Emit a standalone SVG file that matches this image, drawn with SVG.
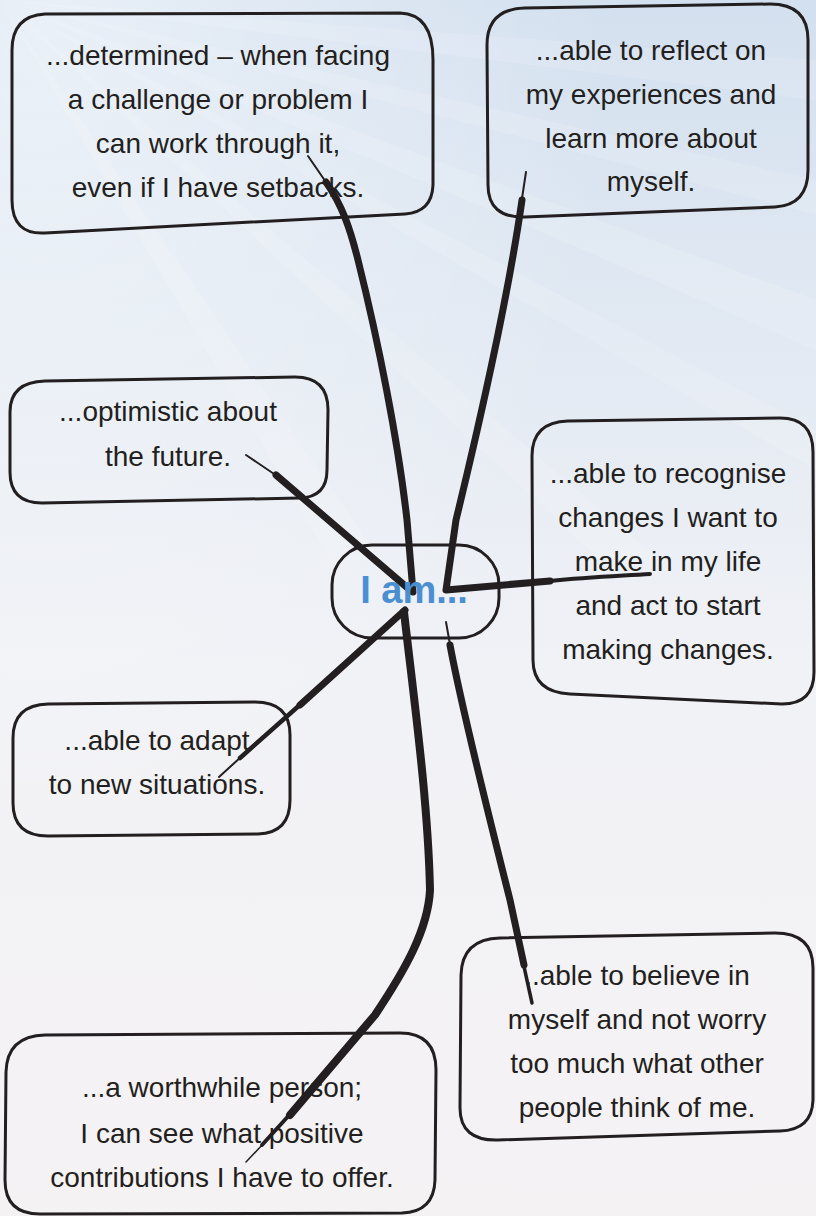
<svg xmlns="http://www.w3.org/2000/svg" width="816" height="1216" viewBox="0 0 816 1216">
  <defs>
    <linearGradient id="bg" x1="0" y1="0" x2="0" y2="1">
      <stop offset="0" stop-color="#d3e0ef"/>
      <stop offset="0.3" stop-color="#e3eaf3"/>
      <stop offset="0.55" stop-color="#f1f2f6"/>
      <stop offset="1" stop-color="#f5f2f4"/>
    </linearGradient>
    <radialGradient id="glow" cx="0.05" cy="0.02" r="0.7">
      <stop offset="0" stop-color="#ffffff" stop-opacity="0.5"/>
      <stop offset="1" stop-color="#ffffff" stop-opacity="0"/>
    </radialGradient>
    <style>
      .box { fill: none; stroke: #231f20; stroke-width: 3; stroke-linejoin: round; }
      .t { font-family: "Liberation Sans", Arial, sans-serif; font-size: 28px; fill: #231f20; text-anchor: middle; }
      .c { font-family: "Liberation Sans", Arial, sans-serif; font-size: 38px; font-weight: bold; fill: #4a8fd2; text-anchor: middle; }
      .ln { fill: none; stroke: #231f20; stroke-linecap: round; stroke-linejoin: round; }
      .ray { fill: #ffffff; opacity: 0.13; }
    </style>
  </defs>

  <rect x="0" y="0" width="816" height="1216" fill="url(#bg)"/>
  <g id="rays">
    <polygon class="ray" points="0,0 816,180 816,215"/>
    <polygon class="ray" points="0,0 816,300 816,350"/>
    <polygon class="ray" points="0,0 816,430 816,470"/>
    <polygon class="ray" points="0,0 600,560 660,560"/>
    <polygon class="ray" points="0,0 330,560 380,560"/>
    <polygon class="ray" points="0,0 816,60 816,100"/>
  </g>
  <rect x="0" y="0" width="816" height="1216" fill="url(#glow)"/>

  <g id="connectors">
    <!-- determined -->
    <path class="ln" stroke-width="2" d="M 308,156 L 330,188"/>
    <path class="ln" stroke-width="7" d="M 326,182 C 342,205 350,228 358,260 C 378,340 398,440 407,520 L 413,592"/>
    <!-- reflect -->
    <path class="ln" stroke-width="2" d="M 526,172 L 521,205"/>
    <path class="ln" stroke-width="7" d="M 522,200 C 512,270 490,380 456,520 L 446,590 L 550,581"/>
    <path class="ln" stroke-width="4" d="M 550,581 C 590,577 620,576 650,574"/>
    <!-- optimistic -->
    <path class="ln" stroke-width="2" d="M 246,455 L 280,478"/>
    <path class="ln" stroke-width="7" d="M 276,475 L 410,590"/>
    <!-- adapt -->
    <path class="ln" stroke-width="7" d="M 405,610 L 300,705"/>
    <path class="ln" stroke-width="4.5" d="M 302,703 L 240,758"/>
    <path class="ln" stroke-width="2" d="M 242,756 L 219,777"/>
    <!-- worthwhile -->
    <path class="ln" stroke-width="8" d="M 404,612 C 414,700 428,800 430,890 C 428,930 405,970 375,1015 L 290,1115"/>
    <path class="ln" stroke-width="4" d="M 292,1112 L 262,1145"/>
    <path class="ln" stroke-width="1.5" d="M 264,1143 L 246,1162"/>
    <!-- believe -->
    <path class="ln" stroke-width="2" d="M 446,622 L 451,650"/>
    <path class="ln" stroke-width="7" d="M 450,645 C 463,715 490,820 510,900 L 524,965"/>
    <path class="ln" stroke-width="3.5" d="M 523,962 L 532,1003"/>
  </g>

  <g id="n-determined">
    <path class="box" d="M 45,14 L 400,13 Q 433,14 433,60 L 433,185 Q 432,212 405,214 L 45,233 Q 12,235 12,200 L 12,50 Q 12,16 45,14 Z"/>
    <text class="t" x="218" y="65">...determined – when facing</text>
    <text class="t" x="218" y="109">a challenge or problem I</text>
    <text class="t" x="218" y="153">can work through it,</text>
    <text class="t" x="218" y="197">even if I have setbacks.</text>
  </g>

  <g id="n-reflect">
    <path class="box" d="M 525,8 L 770,4 Q 808,4 808,40 L 808,170 Q 808,205 775,207 L 525,217 Q 488,218 488,185 L 487,45 Q 487,9 525,8 Z"/>
    <text class="t" x="651" y="60">...able to reflect on</text>
    <text class="t" x="651" y="104">my experiences and</text>
    <text class="t" x="651" y="148">learn more about</text>
    <text class="t" x="651" y="191">myself.</text>
  </g>

  <g id="n-optimistic">
    <path class="box" d="M 45,381 L 295,377 Q 328,377 328,410 L 327,470 Q 327,497 300,498 L 42,503 Q 10,503 10,472 L 10,412 Q 10,382 45,381 Z"/>
    <text class="t" x="168" y="421">...optimistic about</text>
    <text class="t" x="168" y="466">the future.</text>
  </g>

  <g id="n-recognise">
    <path class="box" d="M 568,421 L 780,418 Q 813,418 813,452 L 814,672 Q 814,704 782,704 L 570,694 Q 533,692 533,660 L 532,456 Q 532,422 568,421 Z"/>
    <text class="t" x="668" y="483">...able to recognise</text>
    <text class="t" x="668" y="527">changes I want to</text>
    <text class="t" x="668" y="571">make in my life</text>
    <text class="t" x="668" y="615">and act to start</text>
    <text class="t" x="668" y="659">making changes.</text>
  </g>

  <g id="n-center">
    <rect class="box" x="332" y="545" width="167" height="93" rx="40" ry="40"/>
    <text class="c" x="414" y="603">I am...</text>
  </g>

  <g id="n-adapt">
    <path class="box" d="M 48,704 L 255,702 Q 290,702 290,735 L 290,800 Q 290,833 258,834 L 48,836 Q 13,836 13,803 L 13,738 Q 13,705 48,704 Z"/>
    <text class="t" x="157" y="750">...able to adapt</text>
    <text class="t" x="157" y="794">to new situations.</text>
  </g>

  <g id="n-believe">
    <path class="box" d="M 500,938 L 775,933 Q 813,933 813,968 L 813,1100 Q 812,1130 780,1131 L 498,1140 Q 460,1141 460,1108 L 461,975 Q 462,939 500,938 Z"/>
    <text class="t" x="637" y="985">..able to believe in</text>
    <text class="t" x="637" y="1029">myself and not worry</text>
    <text class="t" x="637" y="1073">too much what other</text>
    <text class="t" x="637" y="1117">people think of me.</text>
  </g>

  <g id="n-worthwhile">
    <path class="box" d="M 45,1035 L 400,1033 Q 436,1033 436,1070 L 435,1180 Q 434,1212 402,1213 L 40,1214 Q 5,1214 5,1180 L 6,1072 Q 7,1036 45,1035 Z"/>
    <text class="t" x="222" y="1097">...a worthwhile person;</text>
    <text class="t" x="222" y="1143">I can see what positive</text>
    <text class="t" x="222" y="1187">contributions I have to offer.</text>
  </g>
</svg>
